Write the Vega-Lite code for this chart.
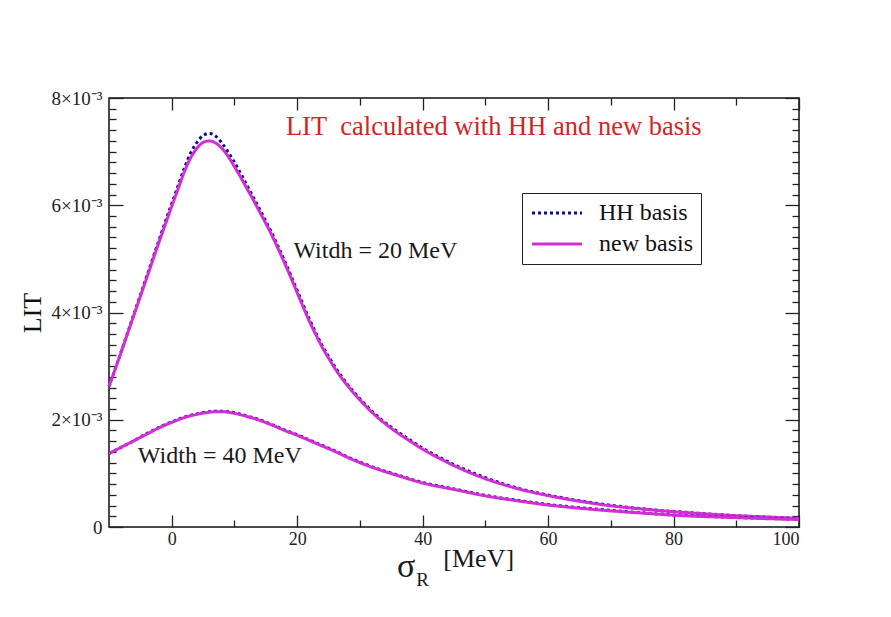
{
  "$schema": "https://vega.github.io/schema/vega-lite/v6.json",
  "width": 690,
  "height": 429,
  "autosize": {"type": "none"},
  "padding": {"left": 109, "top": 98, "right": 92, "bottom": 90},
  "background": "white",
  "config": {
    "view": {"stroke": "#111111", "strokeWidth": 1.5},
    "font": "Liberation Serif",
    "axis": {
      "grid": false,
      "domain": false,
      "tickColor": "#222222",
      "tickWidth": 1.3,
      "labelFont": "Liberation Serif",
      "labelFontSize": 18,
      "labelColor": "#222222",
      "titleFont": "Liberation Serif",
      "titleFontWeight": "normal",
      "titleColor": "#111111"
    }
  },
  "datasets": {
    "lit": [
      {"width": 20, "sigma": -10, "HH basis": 0.00262, "new basis": 0.00262},
      {"width": 20, "sigma": -8, "HH basis": 0.00329, "new basis": 0.00328},
      {"width": 20, "sigma": -6, "HH basis": 0.00398, "new basis": 0.00396},
      {"width": 20, "sigma": -4, "HH basis": 0.00467, "new basis": 0.00464},
      {"width": 20, "sigma": -2, "HH basis": 0.00536, "new basis": 0.00532},
      {"width": 20, "sigma": -1, "HH basis": 0.00570, "new basis": 0.00565},
      {"width": 20, "sigma": 0, "HH basis": 0.00603, "new basis": 0.00598},
      {"width": 20, "sigma": 1, "HH basis": 0.00636, "new basis": 0.00630},
      {"width": 20, "sigma": 2, "HH basis": 0.00669, "new basis": 0.00662},
      {"width": 20, "sigma": 3, "HH basis": 0.00697, "new basis": 0.00688},
      {"width": 20, "sigma": 4, "HH basis": 0.00717, "new basis": 0.00706},
      {"width": 20, "sigma": 5, "HH basis": 0.00730, "new basis": 0.00717},
      {"width": 20, "sigma": 6, "HH basis": 0.00734, "new basis": 0.00720},
      {"width": 20, "sigma": 7, "HH basis": 0.00729, "new basis": 0.00716},
      {"width": 20, "sigma": 8, "HH basis": 0.00716, "new basis": 0.00706},
      {"width": 20, "sigma": 9, "HH basis": 0.00699, "new basis": 0.00691},
      {"width": 20, "sigma": 10, "HH basis": 0.00680, "new basis": 0.00672},
      {"width": 20, "sigma": 11, "HH basis": 0.00659, "new basis": 0.00652},
      {"width": 20, "sigma": 12, "HH basis": 0.00637, "new basis": 0.00631},
      {"width": 20, "sigma": 13, "HH basis": 0.00615, "new basis": 0.00610},
      {"width": 20, "sigma": 14, "HH basis": 0.00593, "new basis": 0.00588},
      {"width": 20, "sigma": 15, "HH basis": 0.00570, "new basis": 0.00566},
      {"width": 20, "sigma": 16, "HH basis": 0.00547, "new basis": 0.00543},
      {"width": 20, "sigma": 17, "HH basis": 0.00522, "new basis": 0.00518},
      {"width": 20, "sigma": 18, "HH basis": 0.00496, "new basis": 0.00492},
      {"width": 20, "sigma": 19, "HH basis": 0.00469, "new basis": 0.00465},
      {"width": 20, "sigma": 20, "HH basis": 0.00441, "new basis": 0.00437},
      {"width": 20, "sigma": 21, "HH basis": 0.00413, "new basis": 0.00409},
      {"width": 20, "sigma": 22, "HH basis": 0.00386, "new basis": 0.00382},
      {"width": 20, "sigma": 23, "HH basis": 0.00361, "new basis": 0.00358},
      {"width": 20, "sigma": 24, "HH basis": 0.00338, "new basis": 0.00335},
      {"width": 20, "sigma": 25, "HH basis": 0.00318, "new basis": 0.00315},
      {"width": 20, "sigma": 26, "HH basis": 0.00299, "new basis": 0.00296},
      {"width": 20, "sigma": 27, "HH basis": 0.00282, "new basis": 0.00279},
      {"width": 20, "sigma": 28, "HH basis": 0.00266, "new basis": 0.00264},
      {"width": 20, "sigma": 29, "HH basis": 0.00252, "new basis": 0.00250},
      {"width": 20, "sigma": 30, "HH basis": 0.00239, "new basis": 0.00237},
      {"width": 20, "sigma": 32, "HH basis": 0.00215, "new basis": 0.00213},
      {"width": 20, "sigma": 35, "HH basis": 0.00186, "new basis": 0.00184},
      {"width": 20, "sigma": 38, "HH basis": 0.00162, "new basis": 0.00160},
      {"width": 20, "sigma": 40, "HH basis": 0.00147, "new basis": 0.00145},
      {"width": 20, "sigma": 43, "HH basis": 0.00128, "new basis": 0.00126},
      {"width": 20, "sigma": 46, "HH basis": 0.00111, "new basis": 0.00109},
      {"width": 20, "sigma": 50, "HH basis": 0.00092, "new basis": 0.00090},
      {"width": 20, "sigma": 55, "HH basis": 0.00073, "new basis": 0.00072},
      {"width": 20, "sigma": 60, "HH basis": 0.000595, "new basis": 0.000585},
      {"width": 20, "sigma": 65, "HH basis": 0.00049, "new basis": 0.00048},
      {"width": 20, "sigma": 70, "HH basis": 0.000405, "new basis": 0.000395},
      {"width": 20, "sigma": 75, "HH basis": 0.00034, "new basis": 0.000335},
      {"width": 20, "sigma": 80, "HH basis": 0.00029, "new basis": 0.000285},
      {"width": 20, "sigma": 85, "HH basis": 0.000248, "new basis": 0.000245},
      {"width": 20, "sigma": 90, "HH basis": 0.000212, "new basis": 0.00021},
      {"width": 20, "sigma": 95, "HH basis": 0.000186, "new basis": 0.000185},
      {"width": 20, "sigma": 100, "HH basis": 0.00016, "new basis": 0.00016},
      {"width": 40, "sigma": -10, "HH basis": 0.00137, "new basis": 0.00137},
      {"width": 40, "sigma": -8, "HH basis": 0.00149, "new basis": 0.00149},
      {"width": 40, "sigma": -6, "HH basis": 0.00161, "new basis": 0.00161},
      {"width": 40, "sigma": -4, "HH basis": 0.00174, "new basis": 0.00173},
      {"width": 40, "sigma": -2, "HH basis": 0.00186, "new basis": 0.00185},
      {"width": 40, "sigma": 0, "HH basis": 0.00196, "new basis": 0.00195},
      {"width": 40, "sigma": 2, "HH basis": 0.00205, "new basis": 0.00204},
      {"width": 40, "sigma": 4, "HH basis": 0.00211, "new basis": 0.00210},
      {"width": 40, "sigma": 6, "HH basis": 0.00215, "new basis": 0.00214},
      {"width": 40, "sigma": 7, "HH basis": 0.00216, "new basis": 0.00215},
      {"width": 40, "sigma": 8, "HH basis": 0.00216, "new basis": 0.00215},
      {"width": 40, "sigma": 10, "HH basis": 0.00213, "new basis": 0.00212},
      {"width": 40, "sigma": 12, "HH basis": 0.00207, "new basis": 0.00206},
      {"width": 40, "sigma": 14, "HH basis": 0.00200, "new basis": 0.00199},
      {"width": 40, "sigma": 16, "HH basis": 0.00191, "new basis": 0.00190},
      {"width": 40, "sigma": 18, "HH basis": 0.00181, "new basis": 0.00180},
      {"width": 40, "sigma": 20, "HH basis": 0.00172, "new basis": 0.00171},
      {"width": 40, "sigma": 22, "HH basis": 0.00162, "new basis": 0.00161},
      {"width": 40, "sigma": 24, "HH basis": 0.00152, "new basis": 0.00151},
      {"width": 40, "sigma": 26, "HH basis": 0.00142, "new basis": 0.00141},
      {"width": 40, "sigma": 28, "HH basis": 0.00131, "new basis": 0.00130},
      {"width": 40, "sigma": 30, "HH basis": 0.00121, "new basis": 0.00120},
      {"width": 40, "sigma": 33, "HH basis": 0.00108, "new basis": 0.00107},
      {"width": 40, "sigma": 36, "HH basis": 0.00097, "new basis": 0.00096},
      {"width": 40, "sigma": 40, "HH basis": 0.00083, "new basis": 0.00082},
      {"width": 40, "sigma": 45, "HH basis": 0.00071, "new basis": 0.00070},
      {"width": 40, "sigma": 50, "HH basis": 0.00059, "new basis": 0.00058},
      {"width": 40, "sigma": 55, "HH basis": 0.00050, "new basis": 0.00049},
      {"width": 40, "sigma": 60, "HH basis": 0.00042, "new basis": 0.00041},
      {"width": 40, "sigma": 65, "HH basis": 0.00036, "new basis": 0.00035},
      {"width": 40, "sigma": 70, "HH basis": 0.00031, "new basis": 0.00030},
      {"width": 40, "sigma": 75, "HH basis": 0.000265, "new basis": 0.00026},
      {"width": 40, "sigma": 80, "HH basis": 0.000225, "new basis": 0.00022},
      {"width": 40, "sigma": 85, "HH basis": 0.0002, "new basis": 0.000195},
      {"width": 40, "sigma": 90, "HH basis": 0.00018, "new basis": 0.000175},
      {"width": 40, "sigma": 95, "HH basis": 0.00016, "new basis": 0.000155},
      {"width": 40, "sigma": 100, "HH basis": 0.000145, "new basis": 0.00014}
    ]
  },
  "resolve": {"axis": {"x": "independent", "y": "independent"}},
  "layer": [
    {
      "data": {"name": "lit"},
      "transform": [{"fold": ["HH basis", "new basis"], "as": ["basis", "lit"]}],
      "mark": {"type": "line", "strokeWidth": 3, "interpolate": "monotone", "strokeCap": "butt"},
      "encoding": {
        "x": {
          "field": "sigma", "type": "quantitative",
          "scale": {"domain": [-10, 100], "nice": false, "zero": false},
          "axis": {"orient": "bottom", "values": [0, 20, 40, 60, 80, 100], "tickSize": -12, "labelPadding": 15, "labelFont": "Liberation Serif", "title": null}
        },
        "y": {
          "field": "lit", "type": "quantitative",
          "scale": {"domain": [0, 0.008], "nice": false},
          "axis": {
            "orient": "left", "values": [0, 0.002, 0.004, 0.006, 0.008], "tickSize": -14, "labelPadding": 21,
            "labelExpr": "datum.value == 0 ? '0' : format(datum.value * 1000, 'd') + '×10⁻³'",
            "labelFont": "Liberation Serif", "labelFontSize": 19,
            "title": "LIT", "titleFontSize": 26, "titlePadding": 6
          }
        },
        "color": {
          "field": "basis", "type": "nominal",
          "scale": {"domain": ["HH basis", "new basis"], "range": ["#0c0c8e", "#d22ed6"]},
          "legend": {
            "orient": "none", "legendX": 413, "legendY": 95, "title": null,
            "strokeColor": "#222222", "fillColor": "white", "padding": 8, "cornerRadius": 0,
            "symbolType": "M-1,0H4", "symbolSize": 400, "symbolStrokeWidth": 3, "rowPadding": 7,
            "labelFont": "Liberation Serif", "labelFontSize": 24, "labelColor": "#111111", "labelOffset": 45,
            "encode": {
              "symbols": {
                "enter": {"strokeDash": {"signal": "datum.value === 'HH basis' ? [3, 10] : [1, 0]"}},
                "update": {"strokeDash": {"signal": "datum.value === 'HH basis' ? [3, 10] : [1, 0]"}}
              }
            }
          }
        },
        "strokeDash": {
          "field": "basis", "type": "nominal",
          "scale": {"domain": ["HH basis", "new basis"], "range": [[3, 3], [1, 0]]},
          "legend": null
        },
        "detail": {"field": "width", "type": "nominal"}
      }
    },
    {
      "data": {"values": [{}]},
      "mark": {"type": "text", "text": "LIT\u00a0 calculated with HH and new basis", "font": "Liberation Serif", "fontSize": 26.5, "color": "#d42424", "align": "left", "baseline": "alphabetic"},
      "encoding": {
        "x": {
          "datum": 18.2, "type": "quantitative",
          "scale": {"domain": [-10, 100], "nice": false, "zero": false},
          "axis": {"orient": "bottom", "values": [10, 30, 50, 70, 90], "tickSize": -7, "labels": false, "title": null}
        },
        "y": {
          "datum": 0.00731, "type": "quantitative",
          "scale": {"domain": [0, 0.008], "nice": false},
          "axis": {"orient": "left", "values": [0.0002, 0.0004, 0.0006, 0.0008, 0.001, 0.0012, 0.0014, 0.0016, 0.0018, 0.0022, 0.0024, 0.0026, 0.0028, 0.003, 0.0032, 0.0034, 0.0036, 0.0038, 0.0042, 0.0044, 0.0046, 0.0048, 0.005, 0.0052, 0.0054, 0.0056, 0.0058, 0.0062, 0.0064, 0.0066, 0.0068, 0.007, 0.0072, 0.0074, 0.0076, 0.0078], "tickSize": -7, "labels": false, "title": null}
        }
      }
    },
    {
      "data": {"values": [{}]},
      "mark": {"type": "text", "text": "Witdh = 20 MeV", "font": "Liberation Serif", "fontSize": 24, "color": "#1a1a1a", "align": "left", "baseline": "alphabetic"},
      "encoding": {
        "x": {
          "datum": 19.4, "type": "quantitative",
          "scale": {"domain": [-10, 100], "nice": false, "zero": false},
          "axis": {"orient": "top", "values": [0, 20, 40, 60, 80, 100], "tickSize": -12, "labels": false, "title": null}
        },
        "y": {
          "datum": 0.00502, "type": "quantitative",
          "scale": {"domain": [0, 0.008], "nice": false},
          "axis": {"orient": "right", "values": [0, 0.002, 0.004, 0.006, 0.008], "tickSize": -14, "labels": false, "title": null}
        }
      }
    },
    {
      "data": {"values": [{}]},
      "mark": {"type": "text", "text": "Width = 40 MeV", "font": "Liberation Serif", "fontSize": 24, "color": "#1a1a1a", "align": "left", "baseline": "alphabetic"},
      "encoding": {
        "x": {
          "datum": -5.4, "type": "quantitative",
          "scale": {"domain": [-10, 100], "nice": false, "zero": false},
          "axis": {"orient": "top", "values": [10, 30, 50, 70, 90], "tickSize": -7, "labels": false, "title": null}
        },
        "y": {
          "datum": 0.00119, "type": "quantitative",
          "scale": {"domain": [0, 0.008], "nice": false},
          "axis": {"orient": "right", "values": [0.0002, 0.0004, 0.0006, 0.0008, 0.001, 0.0012, 0.0014, 0.0016, 0.0018, 0.0022, 0.0024, 0.0026, 0.0028, 0.003, 0.0032, 0.0034, 0.0036, 0.0038, 0.0042, 0.0044, 0.0046, 0.0048, 0.005, 0.0052, 0.0054, 0.0056, 0.0058, 0.0062, 0.0064, 0.0066, 0.0068, 0.007, 0.0072, 0.0074, 0.0076, 0.0078], "tickSize": -7, "labels": false, "title": null}
        }
      }
    },
    {
      "data": {"values": [{}]},
      "mark": {"type": "text", "text": "σ", "font": "Liberation Serif", "fontSize": 34, "color": "#1a1a1a", "align": "left", "baseline": "alphabetic"},
      "encoding": {
        "x": {"datum": 35.9, "type": "quantitative", "scale": {"domain": [-10, 100], "nice": false, "zero": false}, "axis": null},
        "y": {"datum": -0.00093, "type": "quantitative", "scale": {"domain": [0, 0.008], "nice": false}, "axis": null}
      }
    },
    {
      "data": {"values": [{}]},
      "mark": {"type": "text", "text": "R", "font": "Liberation Serif", "fontSize": 19, "color": "#1a1a1a", "align": "left", "baseline": "alphabetic"},
      "encoding": {
        "x": {"datum": 39.0, "type": "quantitative", "scale": {"domain": [-10, 100], "nice": false, "zero": false}, "axis": null},
        "y": {"datum": -0.0011, "type": "quantitative", "scale": {"domain": [0, 0.008], "nice": false}, "axis": null}
      }
    },
    {
      "data": {"values": [{}]},
      "mark": {"type": "text", "text": "[MeV]", "font": "Liberation Serif", "fontSize": 26, "color": "#1a1a1a", "align": "left", "baseline": "alphabetic"},
      "encoding": {
        "x": {"datum": 43.3, "type": "quantitative", "scale": {"domain": [-10, 100], "nice": false, "zero": false}, "axis": null},
        "y": {"datum": -0.00075, "type": "quantitative", "scale": {"domain": [0, 0.008], "nice": false}, "axis": null}
      }
    }
  ]
}
